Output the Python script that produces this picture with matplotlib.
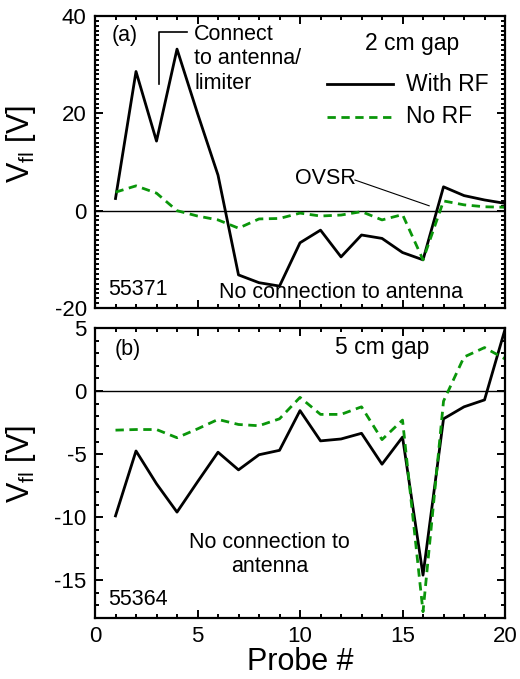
import numpy as np
import matplotlib
matplotlib.use('Agg')
import matplotlib.pyplot as plt
from matplotlib.ticker import MultipleLocator

plt.rcParams['font.family'] = ['Liberation Sans', 'DejaVu Sans']
plt.rcParams['mathtext.fontset'] = 'custom'
plt.rcParams['mathtext.rm'] = 'Liberation Sans'
plt.rcParams['axes.unicode_minus'] = False

# Probe numbers
probe = np.arange(1, 21)

# (a) 2 cm gap, shot 55371
with_rf_a = [2.5, 28.6, 14.3, 33.2, 20.0, 7.3, -13.2, -14.8, -15.5, -6.6,
             -4.0, -9.5, -5.0, -5.7, -8.6, -10.1, 4.9, 3.1, 2.2, 1.5]
no_rf_a = [3.8, 5.1, 3.6, 0.0, -1.1, -1.9, -3.6, -1.7, -1.6, -0.5,
           -1.1, -0.9, -0.2, -1.9, -0.8, -10.1, 2.0, 1.2, 0.8, 0.7]

# (b) 5 cm gap, shot 55364
with_rf_b = [-9.9, -4.75, -7.35, -9.6, -7.2, -4.85, -6.25, -5.05, -4.7, -1.55,
             -3.95, -3.8, -3.35, -5.8, -3.65, -14.6, -2.2, -1.25, -0.7, 4.9]
no_rf_b = [-3.1, -3.05, -3.05, -3.7, -3.0, -2.25, -2.65, -2.75, -2.2, -0.5,
           -1.85, -1.85, -1.25, -3.85, -2.3, -17.5, -0.8, 2.7, 3.45, 2.55]

green = '#0a960a'
dash = (0, (3, 2))
fs = 15.5

fig = plt.figure(figsize=(5.2, 6.79), dpi=100)
ax1 = fig.add_axes([0.1827, 0.5464, 0.7885, 0.4300])
ax2 = fig.add_axes([0.1827, 0.0898, 0.7885, 0.4271])

for ax in (ax1, ax2):
    ax.set_xlim(0, 20)
    ax.xaxis.set_major_locator(MultipleLocator(5))
    ax.xaxis.set_minor_locator(MultipleLocator(1))
    ax.yaxis.set_minor_locator(MultipleLocator(1))
    ax.tick_params(which='both', direction='in', top=True, right=True,
                   labelsize=16, width=1.4, pad=6)
    ax.tick_params(which='major', length=6)
    ax.tick_params(which='minor', length=3)
    for s in ax.spines.values():
        s.set_linewidth(1.6)
    ax.axhline(0, color='black', lw=1.0, zorder=1)
    ax.set_ylabel(r'V$_{\rm fl}$ [V]', fontsize=22)

ax1.yaxis.set_label_coords(-0.14, 0.56)
ax2.yaxis.set_label_coords(-0.14, 0.53)

# panel (a)
ax1.plot(probe, with_rf_a, color='black', lw=2.0, label='With RF')
ax1.plot(probe, no_rf_a, color=green, lw=2.0, ls=dash, label='No RF')
ax1.set_ylim(-20, 40)
ax1.yaxis.set_major_locator(MultipleLocator(20))
ax1.tick_params(labelbottom=False)

ax1.text(0.8, 36, '(a)', fontsize=fs, va='center')
ax1.plot([3.12, 3.12, 4.47], [26, 36.8, 36.8], color='black', lw=1.2)
for txt, yy in zip(['Connect', 'to antenna/', 'limiter'], [36.2, 31.2, 26.2]):
    ax1.text(4.83, yy, txt, fontsize=fs, va='center', ha='left')
ax1.text(15.45, 34.4, '2 cm gap', fontsize=16.5, ha='center', va='center')
ax1.plot([11.3, 14.55], [26, 26], color='black', lw=2.0)
ax1.text(15.15, 26, 'With RF', fontsize=16.5, va='center')
ax1.plot([11.3, 14.55], [19.3, 19.3], color=green, lw=2.0, ls=dash)
ax1.text(15.15, 19.3, 'No RF', fontsize=16.5, va='center')
ax1.text(9.75, 6.7, 'OVSR', fontsize=fs, va='center')
ax1.plot([12.68, 16.3], [6.3, 1.0], color='black', lw=0.8)
ax1.text(0.63, -16.3, '55371', fontsize=fs, va='center')
ax1.text(12.0, -16.9, 'No connection to antenna', fontsize=fs,
         ha='center', va='center')

# panel (b)
ax2.plot(probe, with_rf_b, color='black', lw=2.0)
ax2.plot(probe, no_rf_b, color=green, lw=2.0, ls=dash)
ax2.set_ylim(-18, 5)
ax2.yaxis.set_major_locator(MultipleLocator(5))
ax2.text(0.97, 3.3, '(b)', fontsize=fs, va='center')
ax2.text(14.0, 3.45, '5 cm gap', fontsize=16.5, ha='center', va='center')
ax2.text(8.5, -12.0, 'No connection to', fontsize=fs, ha='center', va='center')
ax2.text(8.5, -13.9, 'antenna', fontsize=fs, ha='center', va='center')
ax2.text(0.63, -16.5, '55364', fontsize=fs, va='center')
ax2.set_xlabel('Probe #', fontsize=22, labelpad=0)

fig.savefig('out.png', dpi=100)
